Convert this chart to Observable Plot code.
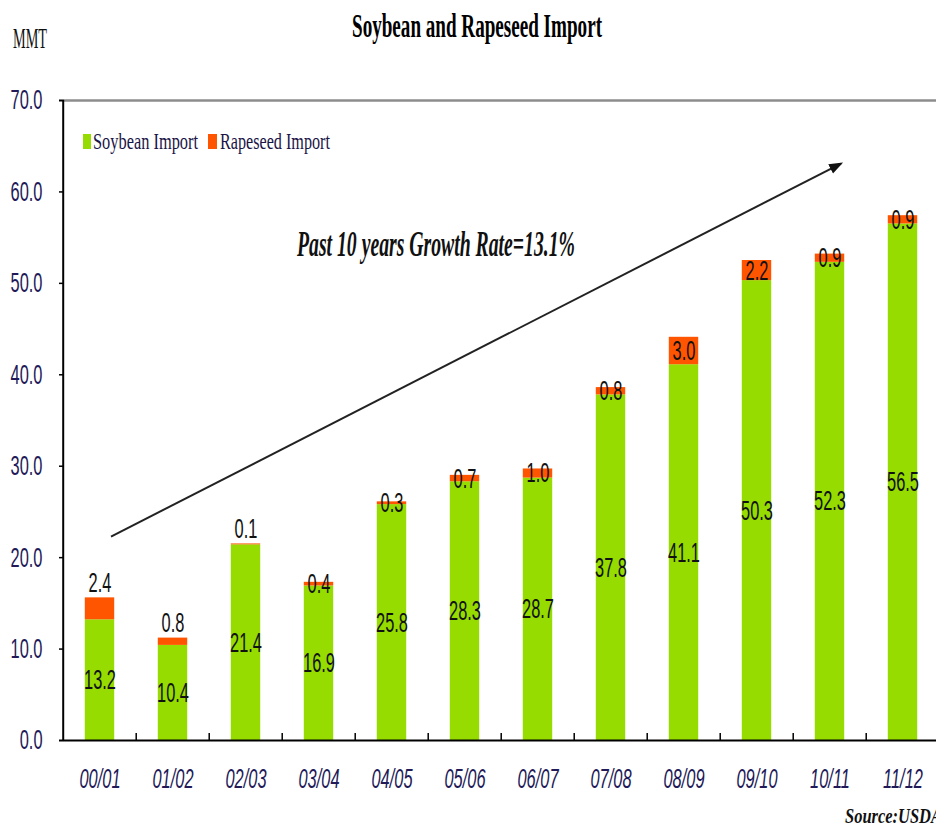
<!DOCTYPE html>
<html><head><meta charset="utf-8">
<script src="https://cdn.jsdelivr.net/npm/d3@7"></script>
<script src="https://cdn.jsdelivr.net/npm/@observablehq/plot@0.6"></script>
<style>
body{margin:0;background:#fff;}
#wrap{position:relative;width:936px;height:829px;overflow:hidden;background:#fff;}
#wrap svg{position:absolute;left:0;top:0;}
</style></head><body><div id="wrap"></div>
<script>
// ---- data ----
const seasons = ["00/01","01/02","02/03","03/04","04/05","05/06","06/07","07/08","08/09","09/10","10/11","11/12"];
const soybeanImport = [13.2,10.4,21.4,16.9,25.8,28.3,28.7,37.8,41.1,50.3,52.3,56.5];
const rapeseedImport = [2.4,0.8,0.1,0.4,0.3,0.7,1.0,0.8,3.0,2.2,0.9,0.9];
const yTicks = [0,10,20,30,40,50,60,70];
const seriesNames = ["Soybean Import","Rapeseed Import"];
const seriesColors = ["#96dc00","#ff5500"];
const rapeLabelAbove = ["00/01","01/02","02/03"];
const titleText = "Soybean and Rapeseed Import";
const unitText = "MMT";
const growthText = "Past 10 years Growth Rate=13.1%";
const sourceText = "Source:USDA";
const trendStart = {season:"00/01", value:22.3};
const trendEnd = {season:"10/11", value:63.1};

// ---- derived tables ----
const rows = seasons.flatMap((s,i)=>[
  {season:s, series:seriesNames[0], value:soybeanImport[i]},
  {season:s, series:seriesNames[1], value:rapeseedImport[i]}
]);
const totals = seasons.map((s,i)=>({season:s, soy:soybeanImport[i], rape:rapeseedImport[i]}));
const trend = [{x1:trendStart.season, y1:trendStart.value, x2:trendEnd.season, y2:trendEnd.value}];

// ---- layout ----
const W=936, H=829, ML=59, MR=-6, MT=100, MB=89;
const step = (W-ML-MR)/seasons.length;
const barInset = (step-30)/2;
const sans = "'Liberation Sans', Arial, sans-serif";
const serif = "'Liberation Serif', 'Times New Roman', serif";
const axisColor = "#221a58";

function filledArrow(color, context){
  const doc = (context && context.document) || document;
  const m = doc.createElementNS("http://www.w3.org/2000/svg","marker");
  m.setAttribute("viewBox","-6 -5 12 10");
  m.setAttribute("markerWidth","14");
  m.setAttribute("markerHeight","12");
  m.setAttribute("markerUnits","userSpaceOnUse");
  m.setAttribute("orient","auto");
  m.setAttribute("refX","4");
  m.setAttribute("refY","0");
  const p = doc.createElementNS("http://www.w3.org/2000/svg","path");
  p.setAttribute("d","M-6,-4.5L6,0L-6,4.5Z");
  p.setAttribute("fill","#111");
  p.setAttribute("stroke","none");
  m.appendChild(p);
  return m;
}

function build(marker){
  return Plot.plot({
    width:W, height:H, marginLeft:ML, marginRight:MR, marginTop:MT, marginBottom:MB,
    style:{fontFamily:sans, background:"transparent"},
    x:{domain:seasons, padding:0, axis:null},
    y:{domain:[0,70], axis:null},
    color:{domain:seriesNames, range:seriesColors},
    marks:[
      Plot.barY(rows, {x:"season", y:"value", fill:"series", insetLeft:barInset, insetRight:barInset}),
      Plot.ruleY([70], {stroke:"#8c8c8c", strokeWidth:2.5}),
      Plot.ruleY([0], {stroke:"#000", strokeWidth:2}),
      Plot.ruleX([seasons[0]], {dx:-step/2, stroke:"#000", strokeWidth:2}),
      Plot.tickY(yTicks.slice(1), {y:d=>d, insetRight:(W-ML-MR)-5, stroke:"#000", strokeWidth:1.5}),
      Plot.tickX(seasons.slice(1), {x:d=>d, dx:-step/2, insetTop:(H-MT-MB)-7, stroke:"#000", strokeWidth:1.5}),
      Plot.axisY(yTicks, {tickSize:0, tickPadding:17, tickFormat:d=>d.toFixed(1), fontSize:20, color:axisColor, label:null}),
      Plot.axisX({tickSize:0, tickPadding:28, fontSize:20, fontStyle:"italic", color:axisColor, label:null}),
      Plot.text(totals, {x:"season", y:d=>d.soy/2, text:d=>d.soy.toFixed(1), fontSize:20, fill:"#111"}),
      Plot.text(totals.filter(d=>!rapeLabelAbove.includes(d.season)), {x:"season", y:d=>d.soy+d.rape/2, text:d=>d.rape.toFixed(1), fontSize:20, fill:"#111"}),
      Plot.text(totals.filter(d=>rapeLabelAbove.includes(d.season)), {x:"season", y:d=>d.soy+d.rape, dy:-15, text:d=>d.rape.toFixed(1), fontSize:20, fill:"#111"}),
      Plot.link(trend, {x1:"x1", y1:"y1", x2:"x2", y2:"y2", dx:11, stroke:"#222", strokeWidth:2, markerEnd:marker})
    ]
  });
}

let chart;
try { chart = build(filledArrow); } catch(e) { chart = build("arrow"); }
const wrap = document.getElementById("wrap");
wrap.appendChild(chart);
const svgEl = chart.tagName.toLowerCase()==="svg" ? chart : chart.querySelector("svg");

// stretch sans text to the tall, narrow look of the original
svgEl.querySelectorAll("text").forEach(t=>{
  let tr = t.getAttribute("transform");
  if (!tr) {
    const x = t.getAttribute("x")||0, y = t.getAttribute("y")||0;
    tr = `translate(${x},${y})`;
    t.removeAttribute("x");
    t.setAttribute("y", "0");
  }
  t.setAttribute("transform", tr + " scale(0.82,1.4)");
});

// ---- overlay texts (title, unit, legend, annotation, source) ----
const ov = d3.select(wrap).append("svg").attr("width",W).attr("height",H).style("pointer-events","none");
function txt(s, x, y, size, len, opts={}){
  ov.append("text").attr("x",x).attr("y",y).text(s)
    .attr("font-family",serif).attr("font-size",size)
    .attr("font-weight",opts.weight||"normal").attr("font-style",opts.style||"normal")
    .attr("fill",opts.fill||"#000")
    .attr("textLength",len).attr("lengthAdjust","spacingAndGlyphs");
}
txt(titleText, 352, 36.5, 33, 250, {weight:"bold"});
txt(unitText, 13, 48, 29, 34, {fill:"#111"});
ov.append("rect").attr("x",83).attr("y",134).attr("width",8).attr("height",15).attr("fill",seriesColors[0]);
ov.append("rect").attr("x",208).attr("y",134).attr("width",9).attr("height",15).attr("fill",seriesColors[1]);
txt(seriesNames[0], 93, 149, 23, 105, {fill:"#1a1446"});
txt(seriesNames[1], 220, 149, 23, 110, {fill:"#1a1446"});
txt(growthText, 297, 256, 35, 278, {weight:"bold", style:"italic", fill:"#111"});
txt(sourceText, 845, 823, 22, 97, {weight:"bold", style:"italic", fill:"#111"});
</script></body></html>
